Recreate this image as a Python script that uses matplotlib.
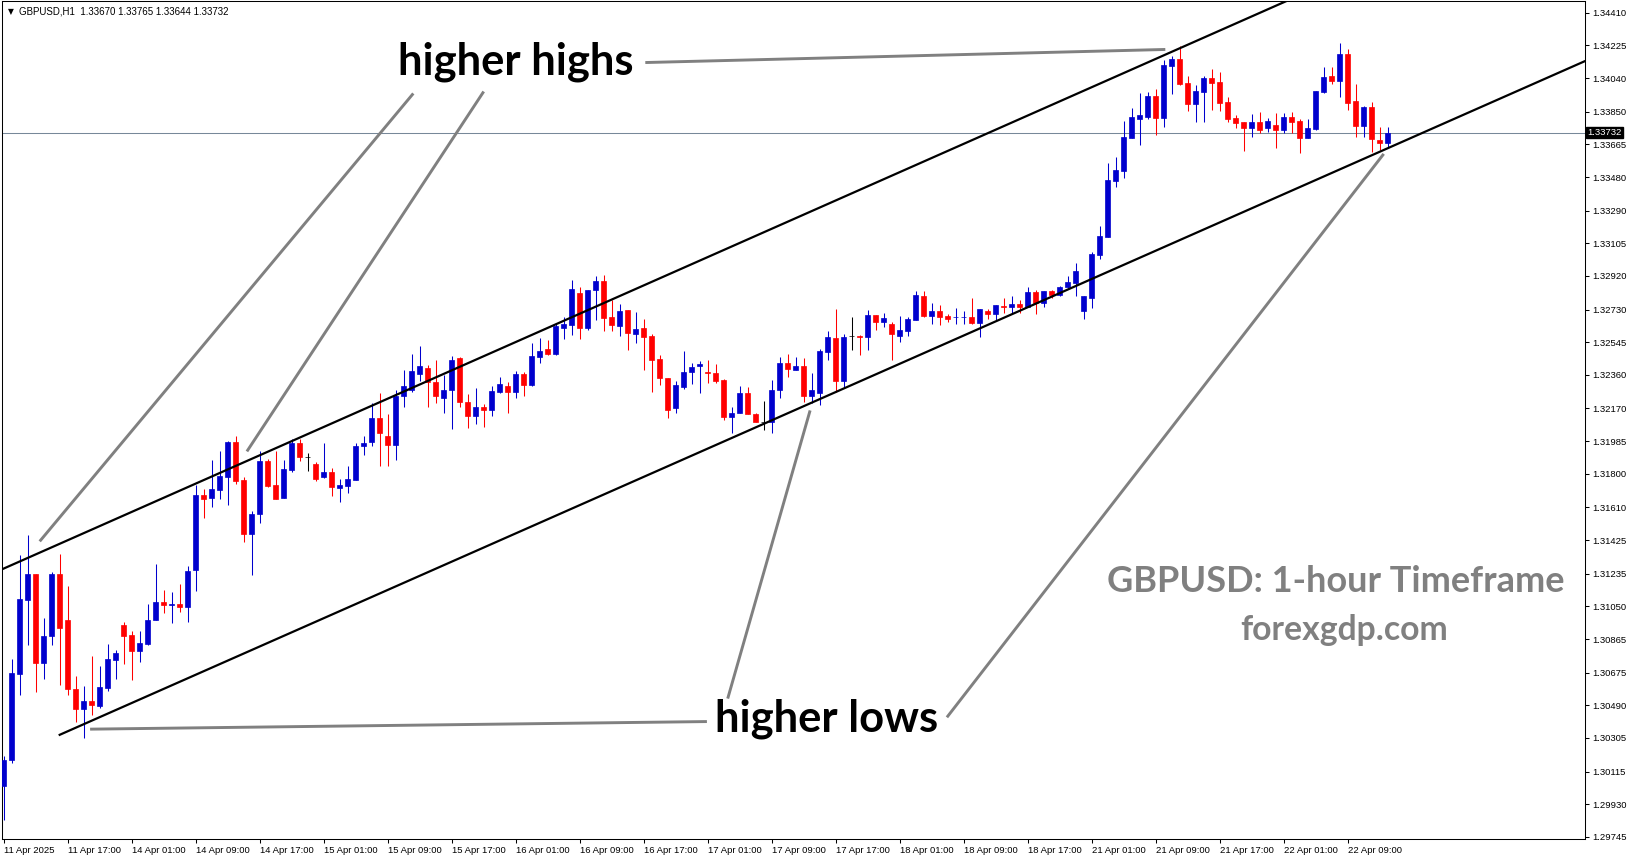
import numpy as np
import matplotlib
matplotlib.use('Agg')
import matplotlib.pyplot as plt
import matplotlib.transforms as mtransforms

# GBPUSD H1 candles, 11 Apr 09:00 -> 22 Apr 14:00
opens = [1.30032, 1.30179, 1.30669, 1.31084, 1.31231, 1.30731, 1.30880, 1.31231, 1.30971, 1.30584,
         1.30471, 1.30516, 1.30488, 1.30590, 1.30748, 1.30946, 1.30890, 1.30795, 1.30839, 1.30975,
         1.31073, 1.31058, 1.31065, 1.31044, 1.31254, 1.31682, 1.31661, 1.31710, 1.31785, 1.31982,
         1.31767, 1.31457, 1.31570, 1.31874, 1.31738, 1.31661, 1.31822, 1.31972, 1.31898, 1.31857,
         1.31785, 1.31812, 1.31720, 1.31734, 1.31768, 1.31955, 1.31978, 1.32117, 1.32016, 1.31966,
         1.32238, 1.32272, 1.32366, 1.32400, 1.32321, 1.32230, 1.32272, 1.32453, 1.32206, 1.32125,
         1.32180, 1.32164, 1.32264, 1.32298, 1.32264, 1.32366, 1.32304, 1.32464, 1.32508, 1.32479,
         1.32627, 1.32645, 1.32826, 1.32623, 1.32842, 1.32892, 1.32689, 1.32638, 1.32728, 1.32594,
         1.32627, 1.32581, 1.32451, 1.32344, 1.32170, 1.32294, 1.32374, 1.32408, 1.32374, 1.32372,
         1.32332, 1.32119, 1.32142, 1.32257, 1.32140, 1.32096, 1.32096, 1.32272, 1.32429, 1.32389,
         1.32412, 1.32242, 1.32260, 1.32492, 1.32570, 1.32328, 1.32580, 1.32583, 1.32572, 1.32700,
         1.32662, 1.32649, 1.32583, 1.32611, 1.32673, 1.32808, 1.32696, 1.32723, 1.32694, 1.32685,
         1.32685, 1.32689, 1.32656, 1.32723, 1.32702, 1.32751, 1.32747, 1.32762, 1.32745, 1.32830,
         1.32766, 1.32836, 1.32812, 1.32855, 1.32883, 1.32719, 1.32798, 1.33040, 1.33143, 1.33460,
         1.33516, 1.33703, 1.33811, 1.33822, 1.33939, 1.33816, 1.34110, 1.34148, 1.34011, 1.33895,
         1.33963, 1.34041, 1.34018, 1.33905, 1.33814, 1.33790, 1.33760, 1.33790, 1.33760, 1.33773,
         1.33748, 1.33822, 1.33798, 1.33703, 1.33752, 1.33963, 1.34052, 1.34026, 1.34177, 1.33911,
         1.33771, 1.33877, 1.33690, 1.33670]
highs = [1.30205, 1.30754, 1.31338, 1.31456, 1.31235, 1.30986, 1.31246, 1.31348, 1.31163, 1.30658,
         1.30597, 1.30771, 1.30714, 1.30839, 1.30805, 1.30963, 1.30911, 1.30911, 1.31065, 1.31288,
         1.31144, 1.31129, 1.31178, 1.31280, 1.31738, 1.31714, 1.31880, 1.31927, 1.31987, 1.32016,
         1.31782, 1.31591, 1.31927, 1.31884, 1.31927, 1.31880, 1.31997, 1.31997, 1.31918, 1.31869,
         1.31974, 1.31835, 1.31771, 1.31846, 1.31974, 1.32016, 1.32200, 1.32260, 1.32140, 1.32276,
         1.32389, 1.32479, 1.32525, 1.32415, 1.32445, 1.32361, 1.32468, 1.32464, 1.32253, 1.32287,
         1.32193, 1.32298, 1.32351, 1.32321, 1.32383, 1.32374, 1.32543, 1.32570, 1.32559, 1.32653,
         1.32690, 1.32898, 1.32860, 1.32842, 1.32917, 1.32926, 1.32785, 1.32762, 1.32728, 1.32717,
         1.32677, 1.32589, 1.32472, 1.32344, 1.32323, 1.32496, 1.32427, 1.32436, 1.32442, 1.32423,
         1.32338, 1.32176, 1.32298, 1.32294, 1.32144, 1.32215, 1.32332, 1.32459, 1.32479, 1.32464,
         1.32457, 1.32370, 1.32508, 1.32606, 1.32734, 1.32591, 1.32689, 1.32587, 1.32728, 1.32700,
         1.32713, 1.32660, 1.32694, 1.32687, 1.32836, 1.32836, 1.32766, 1.32757, 1.32706, 1.32738,
         1.32723, 1.32795, 1.32732, 1.32734, 1.32755, 1.32795, 1.32804, 1.32785, 1.32860, 1.32838,
         1.32834, 1.32842, 1.32864, 1.32917, 1.32993, 1.32804, 1.33053, 1.33204, 1.33558, 1.33596,
         1.33798, 1.33871, 1.33958, 1.33963, 1.33977, 1.34143, 1.34165, 1.34222, 1.34052, 1.34001,
         1.34052, 1.34092, 1.34075, 1.33935, 1.33831, 1.33790, 1.33835, 1.33847, 1.33814, 1.33841,
         1.33844, 1.33848, 1.33807, 1.33807, 1.33967, 1.34105, 1.34105, 1.34237, 1.34203, 1.34007,
         1.33882, 1.33907, 1.33765, 1.33765]
lows = [1.29843, 1.30166, 1.30546, 1.30829, 1.30563, 1.30639, 1.30833, 1.30603, 1.30550, 1.30394,
        1.30303, 1.30437, 1.30475, 1.30569, 1.30641, 1.30726, 1.30631, 1.30733, 1.30833, 1.30971,
        1.31013, 1.30956, 1.31020, 1.30959, 1.31135, 1.31548, 1.31610, 1.31658, 1.31621, 1.31742,
        1.31412, 1.31225, 1.31519, 1.31725, 1.31658, 1.31661, 1.31812, 1.31874, 1.31814, 1.31757,
        1.31776, 1.31672, 1.31638, 1.31691, 1.31768, 1.31906, 1.31955, 1.31842, 1.31842, 1.31876,
        1.32181, 1.32264, 1.32323, 1.32181, 1.32200, 1.32147, 1.32053, 1.32176, 1.32057, 1.32080,
        1.32063, 1.32125, 1.32260, 1.32147, 1.32232, 1.32242, 1.32298, 1.32430, 1.32475, 1.32474,
        1.32564, 1.32587, 1.32564, 1.32615, 1.32668, 1.32606, 1.32606, 1.32583, 1.32502, 1.32543,
        1.32389, 1.32264, 1.32304, 1.32117, 1.32142, 1.32283, 1.32306, 1.32260, 1.32317, 1.32317,
        1.32106, 1.32031, 1.32142, 1.32136, 1.32091, 1.32046, 1.32034, 1.32232, 1.32351, 1.32385,
        1.32208, 1.32200, 1.32187, 1.32442, 1.32266, 1.32285, 1.32502, 1.32470, 1.32502, 1.32615,
        1.32634, 1.32445, 1.32549, 1.32583, 1.32673, 1.32687, 1.32649, 1.32640, 1.32662, 1.32649,
        1.32649, 1.32647, 1.32577, 1.32677, 1.32672, 1.32713, 1.32710, 1.32713, 1.32745, 1.32706,
        1.32744, 1.32795, 1.32804, 1.32851, 1.32804, 1.32677, 1.32736, 1.33015, 1.33143, 1.33426,
        1.33477, 1.33703, 1.33662, 1.33809, 1.33718, 1.33765, 1.33950, 1.34001, 1.33856, 1.33794,
        1.33794, 1.33860, 1.33856, 1.33794, 1.33756, 1.33629, 1.33705, 1.33731, 1.33737, 1.33646,
        1.33728, 1.33728, 1.33615, 1.33703, 1.33747, 1.33954, 1.34007, 1.33932, 1.33860, 1.33709,
        1.33709, 1.33624, 1.33633, 1.33644]
closes = [1.30183, 1.30673, 1.31094, 1.31231, 1.30731, 1.30884, 1.31231, 1.30925, 1.30580, 1.30471,
          1.30516, 1.30494, 1.30596, 1.30754, 1.30788, 1.30880, 1.30795, 1.30845, 1.30975, 1.31077,
          1.31058, 1.31065, 1.31046, 1.31252, 1.31682, 1.31658, 1.31714, 1.31789, 1.31982, 1.31757,
          1.31457, 1.31574, 1.31874, 1.31733, 1.31659, 1.31829, 1.31974, 1.31898, 1.31898, 1.31772,
          1.31812, 1.31723, 1.31738, 1.31772, 1.31959, 1.31976, 1.32117, 1.32034, 1.31966, 1.32238,
          1.32298, 1.32383, 1.32412, 1.32321, 1.32238, 1.32276, 1.32445, 1.32204, 1.32125, 1.32180,
          1.32163, 1.32270, 1.32310, 1.32264, 1.32366, 1.32304, 1.32468, 1.32496, 1.32479, 1.32638,
          1.32649, 1.32845, 1.32623, 1.32842, 1.32892, 1.32683, 1.32645, 1.32723, 1.32600, 1.32621,
          1.32572, 1.32445, 1.32340, 1.32163, 1.32304, 1.32378, 1.32406, 1.32423, 1.32370, 1.32323,
          1.32119, 1.32146, 1.32257, 1.32136, 1.32096, 1.32096, 1.32276, 1.32427, 1.32396, 1.32412,
          1.32238, 1.32276, 1.32496, 1.32576, 1.32328, 1.32576, 1.32580, 1.32572, 1.32700, 1.32662,
          1.32681, 1.32589, 1.32615, 1.32676, 1.32813, 1.32694, 1.32723, 1.32690, 1.32679, 1.32689,
          1.32689, 1.32656, 1.32732, 1.32707, 1.32755, 1.32747, 1.32762, 1.32744, 1.32830, 1.32766,
          1.32834, 1.32812, 1.32858, 1.32887, 1.32949, 1.32804, 1.33045, 1.33147, 1.33464, 1.33520,
          1.33705, 1.33820, 1.33831, 1.33939, 1.33816, 1.34114, 1.34148, 1.34007, 1.33895, 1.33967,
          1.34042, 1.34014, 1.33901, 1.33811, 1.33788, 1.33760, 1.33790, 1.33747, 1.33798, 1.33748,
          1.33818, 1.33794, 1.33703, 1.33756, 1.33967, 1.34045, 1.34026, 1.34177, 1.33901, 1.33771,
          1.33877, 1.33694, 1.33671, 1.33732]

time_labels = ['11 Apr 2025', '11 Apr 17:00', '14 Apr 01:00', '14 Apr 09:00', '14 Apr 17:00',
               '15 Apr 01:00', '15 Apr 09:00', '15 Apr 17:00', '16 Apr 01:00', '16 Apr 09:00',
               '16 Apr 17:00', '17 Apr 01:00', '17 Apr 09:00', '17 Apr 17:00', '18 Apr 01:00',
               '18 Apr 09:00', '18 Apr 17:00', '21 Apr 01:00', '21 Apr 09:00', '21 Apr 17:00',
               '22 Apr 01:00', '22 Apr 09:00']
price_labels = ['1.34410', '1.34225', '1.34040', '1.33850', '1.33665', '1.33480', '1.33290',
                '1.33105', '1.32920', '1.32730', '1.32545', '1.32360', '1.32170', '1.31985',
                '1.31800', '1.31610', '1.31425', '1.31235', '1.31050', '1.30865', '1.30675',
                '1.30490', '1.30305', '1.30115', '1.29930', '1.29745']
bid = 1.33732

# channel anchors (bar index, price)
upper_channel = [(0, 1.31264), (155, 1.34369)]
lower_channel = [(7, 1.30323), (172, 1.33623)]

BLUE = '#0000CD'
RED = '#FF0000'
GREY = '#808080'

o = np.array(opens)
h = np.array(highs)
l = np.array(lows)
c = np.array(closes)
x = np.arange(len(o))
colors = np.where(c > o, BLUE, np.where(c < o, RED, 'black'))

fig = plt.figure(figsize=(16.31, 8.61), dpi=100)
ax = fig.add_axes([2 / 1631, 21.7 / 861, 1583 / 1631, 838.3 / 861])

# candles
ax.vlines(x, l, h, colors=colors, linewidth=0.75, zorder=3)
ax.bar(x, np.abs(c - o), bottom=np.minimum(o, c), width=0.6,
       color=colors, edgecolor=colors, linewidth=0.5, zorder=4)

# bid line
ax.axhline(bid, color='#778899', linewidth=0.75, zorder=1)

# channel lines
(ux0, uy0), (ux1, uy1) = upper_channel
(lx0, ly0), (lx1, ly1) = lower_channel
ax.axline((ux0, uy0), (ux1, uy1), color='black', linewidth=1.6, zorder=5)
far = 220
ax.plot([lx0, far], [ly0, ly0 + (ly1 - ly0) / (lx1 - lx0) * (far - lx0)],
        color='black', linewidth=1.6, zorder=5)

# annotation pointers
pointers = [
    [(80.2, 1.34128), (145.2, 1.34202)],
    [(51.2, 1.33953), (4.5, 1.31418)],
    [(60.0, 1.33964), (30.4, 1.31927)],
    [(87.9, 1.30398), (10.8, 1.30355)],
    [(90.5, 1.30528), (100.8, 1.32159)],
    [(117.9, 1.30422), (172.5, 1.33611)],
]
for (px0, py0), (px1, py1) in pointers:
    ax.plot([px0, px1], [py0, py1], color=GREY, linewidth=2.1, zorder=2,
            solid_capstyle='butt')

ax.text(64.0, 1.34058, 'higher highs', ha='center', va='baseline', fontsize=31.3,
        fontweight='bold', family='Lato', color='black', zorder=6)
ax.text(102.8, 1.30341, 'higher lows', ha='center', va='baseline', fontsize=31.3,
        fontweight='bold', family='Lato', color='black', zorder=6)
ax.text(166.5, 1.31129, 'GBPUSD: 1-hour Timeframe', ha='center', va='baseline', fontsize=26,
        fontweight='bold', family='Lato', color=GREY, zorder=6)
ax.text(167.6, 1.30862, 'forexgdp.com', ha='center', va='baseline', fontsize=24.3,
        fontweight='bold', family='Lato', color=GREY, zorder=6)

# header
ax.text(0.004, 0.993, '\u25bc', transform=ax.transAxes, ha='left', va='top',
        fontsize=5.5, family='DejaVu Sans')
ax.text(0.011, 0.994, 'GBPUSD,H1  %.5f %.5f %.5f %.5f' % (o[-1], h[-1], l[-1], c[-1]),
        transform=ax.transAxes, ha='left', va='top', fontsize=7, family='Liberation Sans')

# axes
ax.set_xlim(-0.2125, 197.66)
ax.set_ylim(1.297316, 1.344763)
ax.set_xticks(np.arange(0, 8 * len(time_labels), 8))
ax.set_xticklabels(time_labels, ha='left', fontsize=6.8, family='Liberation Sans')
ax.set_yticks([float(p) for p in price_labels])
ax.set_yticklabels(price_labels, fontsize=6.8, family='Liberation Sans')
ax.yaxis.tick_right()
ax.tick_params(axis='both', direction='out', length=3, width=0.75, pad=2)
for s in ax.spines.values():
    s.set_linewidth(0.75)

# bid price tag
trans = mtransforms.blended_transform_factory(ax.transAxes, ax.transData)
ax.text(1.0015, bid, '%.5f' % bid, transform=trans, ha='left', va='center',
        fontsize=6.8, family='Liberation Sans', color='white', zorder=7,
        bbox=dict(boxstyle='square,pad=0.15', facecolor='black', edgecolor='black'),
        clip_on=False)

fig.savefig('out.png', dpi=100)
